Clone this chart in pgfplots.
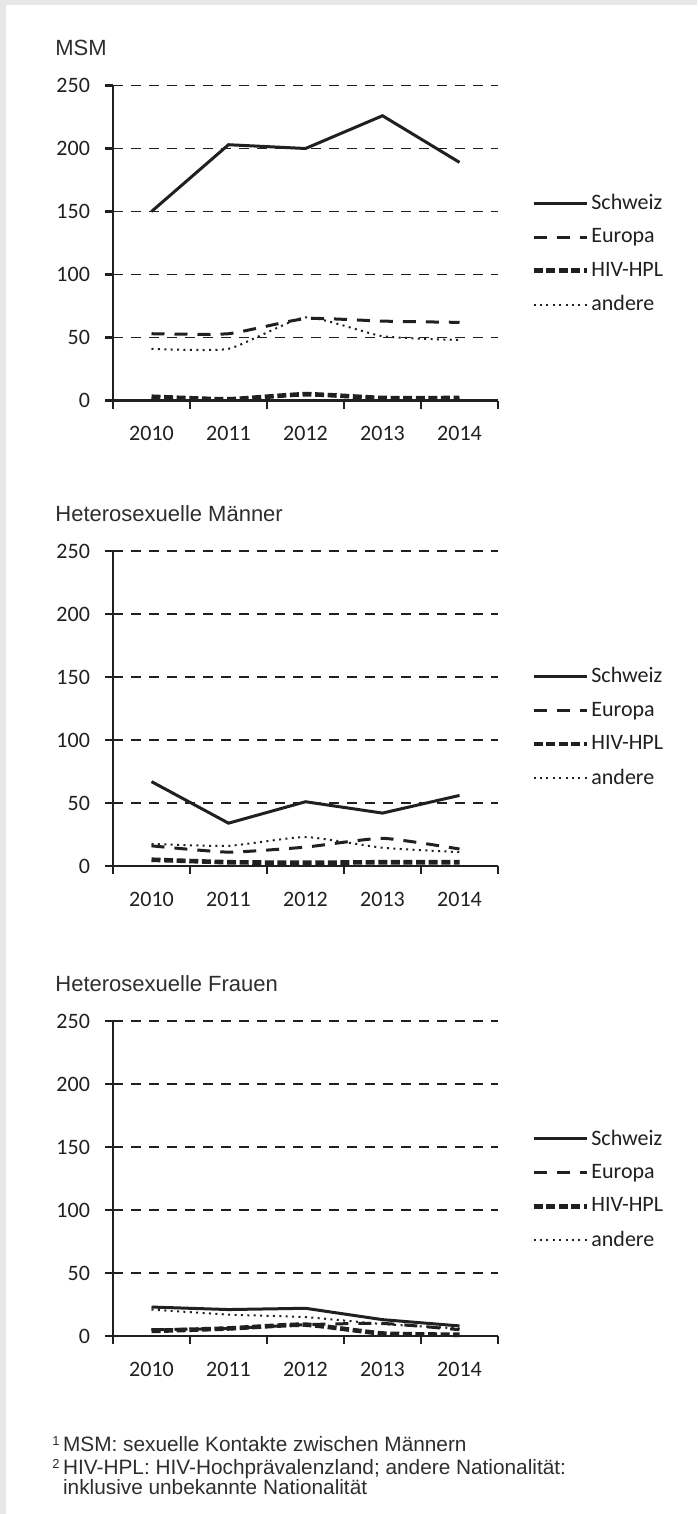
\documentclass[border=0pt]{standalone}
\usepackage{fontspec}
\setmainfont{Carlito}
\newfontfamily\helv{Liberation Sans}
\usepackage{pgfplots}
\pgfplotsset{compat=1.18}

\definecolor{bggray}{HTML}{E6E7E8}
\definecolor{ink}{HTML}{231F20}

% one panel = one axis, the pixel layout of the reference at 0.5pt per px
\pgfplotsset{
  panel/.style={
    width=192.5pt, height=157.5pt, scale only axis,
    xmin=-0.5, xmax=4.5, ymin=0, ymax=250,
    axis x line=bottom, axis y line=left,
    axis line style={-, line width=1.3pt, ink},
    xtick={-0.5,0.5,...,4.5}, x tick label as interval,
    xticklabels={2010,2011,2012,2013,2014},
    ytick={0,50,...,250},
    tick align=outside, major tick length=4pt,
    tick style={line width=1.3pt, ink},
    ymajorgrids,
    grid style={dash pattern=on 5pt off 4pt, line width=0.8pt, ink},
    tick label style={font=\fontsize{11}{13}\selectfont, text=ink},
    y tick label style={xshift=-4pt},
    x tick label style={yshift=-5.5pt},
    /pgf/number format/assume math mode=true,
    clip=false,
    legend cell align=left,
    legend image code/.code={\draw[##1] (0pt,0pt) -- (26.5pt,0pt);},
    legend style={at={(1.0857,0.465)}, anchor=west, draw=none, fill=none,
      inner sep=0pt, row sep=5.7pt, column sep=0pt,
      nodes={inner sep=1.2pt},
      font=\fontsize{11}{13}\selectfont, text=ink},
  },
  schweiz/.style={ink, line width=1.5pt},
  europa/.style={ink, line width=1.5pt, dash pattern=on 6.5pt off 5pt},
  hpl/.style={ink, line width=2.3pt, dash pattern=on 4.5pt off 1.8pt},
  andere/.style={ink, line width=1pt, dash pattern=on 1pt off 2.2pt},
}

\begin{document}
\begin{tikzpicture}
\path[use as bounding box] (0,0) rectangle (348.5pt,-757pt);
\fill[bggray] (0,0) rectangle (348.5pt,-757pt);
\fill[white] (3pt,-2.5pt) rectangle (348.5pt,-757pt);

% MSM
\begin{axis}[panel, at={(56.5pt,-200.25pt)}, anchor=south west]
\addplot[schweiz] coordinates {(0,150) (1,203) (2,200) (3,226) (4,189)};
\addlegendentry{Schweiz}
\addplot[europa, smooth, tension=0.3] coordinates {(0,53) (1,53) (2,65) (3,63) (4,62)};
\addlegendentry{Europa}
\addplot[hpl, smooth, tension=0.3] coordinates {(0,3) (1,1) (2,5) (3,2) (4,2)};
\addlegendentry{HIV-HPL}
\addplot[andere, smooth, tension=0.3] coordinates {(0,41) (1,41) (2,66) (3,51) (4,48)};
\addlegendentry{andere}
\end{axis}

% Heterosexuelle Maenner
\begin{axis}[panel, at={(56.5pt,-433pt)}, anchor=south west,
  legend style={at={(1.0857,0.44)}}]
\addplot[schweiz] coordinates {(0,67) (1,34) (2,51) (3,42) (4,56)};
\addlegendentry{Schweiz}
\addplot[europa, smooth, tension=0.3] coordinates {(0,16) (1,11) (2,15) (3,22) (4,13.5)};
\addlegendentry{Europa}
\addplot[hpl, smooth, tension=0.3] coordinates {(0,5) (1,3) (2,2.6) (3,3) (4,3)};
\addlegendentry{HIV-HPL}
\addplot[andere, smooth, tension=0.3] coordinates {(0,17.5) (1,16) (2,23) (3,14.5) (4,11)};
\addlegendentry{andere}
\end{axis}

% Heterosexuelle Frauen
\begin{axis}[panel, at={(56.5pt,-668pt)}, anchor=south west]
\addplot[schweiz] coordinates {(0,23) (1,21) (2,22) (3,13) (4,8)};
\addlegendentry{Schweiz}
\addplot[europa, smooth, tension=0.3] coordinates {(0,5) (1,6) (2,9) (3,10) (4,5)};
\addlegendentry{Europa}
\addplot[hpl, smooth, tension=0.3] coordinates {(0,4) (1,6) (2,9) (3,2) (4,1)};
\addlegendentry{HIV-HPL}
\addplot[andere, smooth, tension=0.3] coordinates {(0,21) (1,17) (2,15) (3,9.5) (4,6)};
\addlegendentry{andere}
\end{axis}

\begin{scope}[every node/.style={anchor=base west, inner sep=0pt, text=black!82}]
\node[font=\helv\fontsize{11}{13}\selectfont] at (27.5pt,-28pt) {MSM};
\node[font=\helv\fontsize{11}{13}\selectfont] at (27.5pt,-260.5pt) {Heterosexuelle Männer};
\node[font=\helv\fontsize{11}{13}\selectfont] at (27.5pt,-495.5pt) {Heterosexuelle Frauen};
\node[font=\helv\fontsize{10.4}{12}\selectfont] at (26pt,-725.5pt) {{\fontsize{6.5}{7}\selectfont\raisebox{3pt}{1}}\,MSM: sexuelle Kontakte zwischen Männern};
\node[font=\helv\fontsize{10.4}{12}\selectfont] at (26pt,-737pt) {{\fontsize{6.5}{7}\selectfont\raisebox{3pt}{2}}\,HIV-HPL: HIV-Hochprävalenzland; andere Nationalität:};
\node[font=\helv\fontsize{10.4}{12}\selectfont] at (26pt,-747pt) {\phantom{{\fontsize{6.5}{7}\selectfont 2}\,}inklusive unbekannte Nationalität};
\end{scope}
\end{tikzpicture}
\end{document}
